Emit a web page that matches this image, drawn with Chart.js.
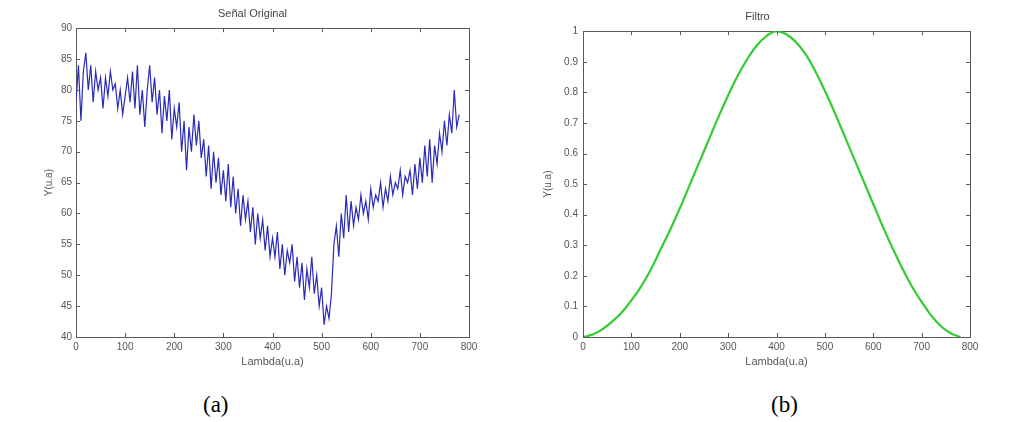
<!DOCTYPE html>
<html><head><meta charset="utf-8">
<script src="https://cdn.jsdelivr.net/npm/chart.js@4.4.0/dist/chart.umd.min.js"></script>
<style>
html,body{margin:0;padding:0;background:#fff;width:1010px;height:422px;overflow:hidden;}
#c1{position:absolute;left:0;top:0;}
#c2{position:absolute;left:505px;top:0;}
.lab{position:absolute;font-family:'Liberation Serif','Times New Roman',serif;font-size:23px;color:#000;line-height:26px;}
</style></head><body>
<canvas id="c1" width="505" height="380"></canvas>
<canvas id="c2" width="505" height="380"></canvas>
<div class="lab" style="left:203px;top:392px">(a)</div>
<div class="lab" style="left:771px;top:392px">(b)</div>
<script>
const titleA = 'Señal Original';
const titleB = 'Filtro';
const xTitle = 'Lambda(u.a)';
const yTitle = 'Y(u.a)';

const lambdaA = [0,5,10,15,20,25,30,35,40,45,50,55,60,65,70,75,80,85,90,95,
100,105,110,115,120,125,130,135,140,145,150,155,160,165,170,175,180,185,190,195,
200,205,210,215,220,225,230,235,240,245,250,255,260,265,270,275,280,285,290,295,
300,305,310,315,320,325,330,335,340,345,350,355,360,365,370,375,380,385,390,395,
400,405,410,415,420,425,430,435,440,445,450,455,460,465,470,475,480,485,490,495,
500,505,510,515,520,525,530,535,540,545,550,555,560,565,570,575,580,585,590,595,
600,605,610,615,620,625,630,635,640,645,650,655,660,665,670,675,680,685,690,695,
700,705,710,715,720,725,730,735,740,745,750,755,760,765,770,775,780];
const signalA = [78,84,75,83,86,80,84,78,83,80,82,77,82,79,83,80,81,77,80,76,
79,82,78,83,77,84,76,80,74,80,84,78,82,76,80,73,79,75,80,72,
77,74,78,70,75,67,74,70,76,71,75,69,72,66,71,64,70,65,69,63,
67,62,68,61,66,60,64,58,63,59,62,57,61,55,60,56,59,54,58,53,
56,53,57,51,55,50,54,52,55,49,53,48,52,46,51,48,53,47,50,45,
48,42,45,43,47,55,58,53,60,56,63,57,62,58,61,59,63,60,62,59,
64,61,63,62,65,61,64,62,66,63,65,64,67,63,66,65,67,63,68,64,
69,65,71,66,72,65,71,68,73,70,75,71,76,73,80,74,76];

const lambdaB = [0,20,40,60,80,100,120,140,160,180,200,220,240,260,280,300,320,340,360,380,
400,420,440,460,480,500,520,540,560,580,600,620,640,660,680,700,720,740,760,780];
const filterB = [0,0.008,0.025,0.05,0.08,0.12,0.165,0.22,0.285,0.35,0.42,0.495,0.57,0.645,0.72,0.79,0.855,0.91,0.955,0.985,
1.0,0.99,0.965,0.925,0.87,0.805,0.735,0.66,0.585,0.51,0.435,0.36,0.29,0.225,0.165,0.115,0.07,0.035,0.012,0];

const xTicks = [0,100,200,300,400,500,600,700,800];
const yTicksA = [40,45,50,55,60,65,70,75,80,85,90];
const yTicksB = [0,0.1,0.2,0.3,0.4,0.5,0.6,0.7,0.8,0.9,1];

const FRAME = '#5a5a5a';
const TXT = '#555';
const FONT = "'Liberation Sans', Arial, sans-serif";

const innerTicks = {
  id: 'innerTicks',
  afterDraw(chart) {
    const {ctx, chartArea: a} = chart;
    const L = 4;
    const xs = chart.scales.x, ys = chart.scales.y;
    ctx.save();
    ctx.strokeStyle = FRAME;
    ctx.lineWidth = 1;
    ctx.beginPath();
    xs.ticks.forEach(t => {
      const p = Math.round(xs.getPixelForValue(t.value)) + 0.5;
      ctx.moveTo(p, a.bottom); ctx.lineTo(p, a.bottom - L);
      ctx.moveTo(p, a.top); ctx.lineTo(p, a.top + L);
    });
    ys.ticks.forEach(t => {
      const p = Math.round(ys.getPixelForValue(t.value)) + 0.5;
      ctx.moveTo(a.left, p); ctx.lineTo(a.left + L, p);
      ctx.moveTo(a.right, p); ctx.lineTo(a.right - L, p);
    });
    ctx.stroke();
    ctx.restore();
  }
};

function fmt(v) { return String(Math.round(v * 10) / 10); }

function makeChart(id, cfg) {
  const pts = cfg.xs.map((x, i) => ({x: x, y: cfg.ys[i]}));
  return new Chart(document.getElementById(id), {
    type: 'line',
    data: {datasets: [{data: pts, borderColor: cfg.color, borderWidth: cfg.width, pointRadius: 0, tension: cfg.tension, fill: false}]},
    options: {
      responsive: false, animation: false, devicePixelRatio: 1,
      layout: {padding: 0},
      plugins: {
        legend: {display: false}, tooltip: {enabled: false},
        title: {display: true, text: cfg.title, color: '#444', font: {family: FONT, size: 11, weight: 'normal'}, padding: cfg.titlePad}
      },
      scales: {
        x: {
          type: 'linear', position: 'bottom', min: 0, max: 800,
          afterBuildTicks: s => { s.ticks = xTicks.map(v => ({value: v})); },
          ticks: {color: TXT, font: {family: FONT, size: 10}, padding: 4, maxRotation: 0, autoSkip: false, callback: v => fmt(v)},
          grid: {display: false, drawTicks: false},
          border: {display: true, color: FRAME, width: 1},
          title: {display: true, text: xTitle, color: TXT, font: {family: FONT, size: 11}, padding: {top: 0, bottom: 11}},
          afterFit: s => { s.height = 43; }
        },
        x2: {
          type: 'linear', axis: 'x', position: 'top', min: 0, max: 800,
          ticks: {display: false}, grid: {display: false, drawTicks: false},
          border: {display: true, color: FRAME, width: 1},
          afterFit: s => { s.height = 0; }
        },
        y: {
          type: 'linear', position: 'left', min: cfg.ymin, max: cfg.ymax,
          afterBuildTicks: s => { s.ticks = cfg.yTicks.map(v => ({value: v})); },
          ticks: {color: TXT, font: {family: FONT, size: 10}, padding: cfg.yPad, autoSkip: false, callback: v => fmt(v)},
          grid: {display: false, drawTicks: false},
          border: {display: true, color: FRAME, width: 1},
          title: {display: true, text: yTitle, color: TXT, font: {family: FONT, size: 10}, padding: {top: cfg.yTitlePad, bottom: 0}},
          afterFit: s => { s.width = cfg.leftW; }
        },
        y2: {
          type: 'linear', axis: 'y', position: 'right', min: cfg.ymin, max: cfg.ymax,
          ticks: {display: false}, grid: {display: false, drawTicks: false},
          border: {display: true, color: FRAME, width: 1},
          afterFit: s => { s.width = cfg.rightW; }
        }
      }
    },
    plugins: [innerTicks]
  });
}

makeChart('c1', {xs: lambdaA, ys: signalA, color: '#2a2ab8', width: 1.2, tension: 0,
  title: titleA, titlePad: {top: 7, bottom: 8}, ymin: 40, ymax: 90, yTicks: yTicksA,
  yPad: 4, yTitlePad: 43, leftW: 76, rightW: 36});

makeChart('c2', {xs: lambdaB, ys: filterB, color: '#33cc33', width: 2.2, tension: 0.4,
  title: titleB, titlePad: {top: 10, bottom: 8}, ymin: 0, ymax: 1, yTicks: yTicksB,
  yPad: 5, yTitlePad: 37, leftW: 78, rightW: 40});
</script>
</body></html>
